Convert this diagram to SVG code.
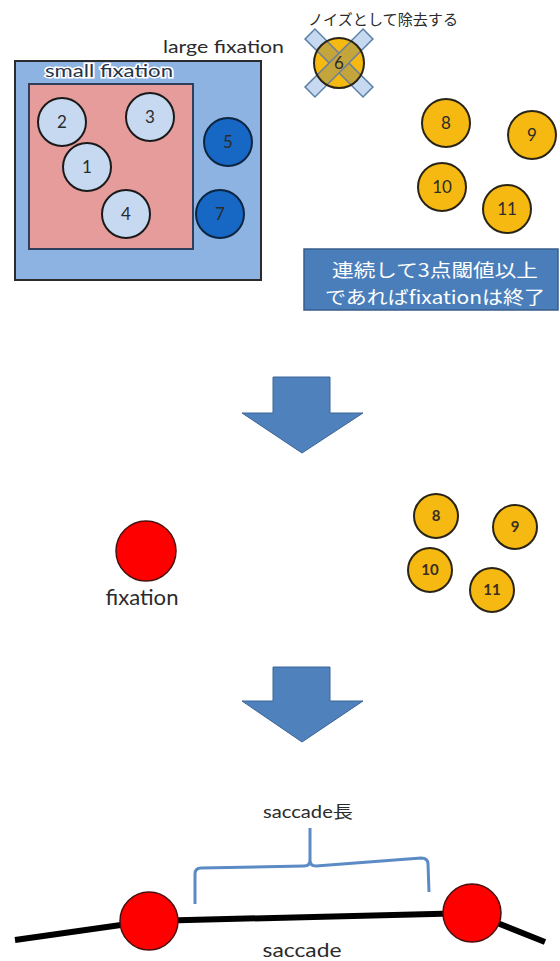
<svg xmlns="http://www.w3.org/2000/svg" width="560" height="961" viewBox="0 0 560 961">
<style>
.lb{fill:#c6d9f1;stroke:#1a1a1a;stroke-width:2}
.db{fill:#1668c4;stroke:#0d2440;stroke-width:2}
.yl{fill:#f6b911;stroke:#2a2416;stroke-width:2}
.rd{fill:#ff0000;stroke:#4a1010;stroke-width:1.5}
.num{font-family:Lato,"Liberation Sans",sans-serif;font-size:17px;fill:#2b2b2b;text-anchor:middle}
.nums{font-family:Lato,"Liberation Sans",sans-serif;font-size:15px;font-weight:bold;fill:#3a3020;text-anchor:middle}
.lbl{font-family:Lato,"Liberation Sans",sans-serif;fill:#2b2b2b}
.arrow{fill:#4f81bd;stroke:#3c6596;stroke-width:1}
.bar{fill:#c6d9f1;stroke:#5b7fa8;stroke-width:1.5}
.jp{font-family:"Noto Sans CJK JP",sans-serif;font-size:18px;fill:#ffffff;text-anchor:middle}
</style>
<defs>
<clipPath id="c6"><circle cx="339" cy="63" r="25"/></clipPath>
</defs>

<g id="large-fixation">
<rect x="15" y="61" width="246" height="219" fill="#8db3e2" stroke="#2b2b2b" stroke-width="2"/>
<text class="lbl" x="163" y="53" font-size="18" textLength="121" lengthAdjust="spacingAndGlyphs">large fixation</text>
</g>
<g id="small-fixation">
<rect x="29" y="84" width="164" height="165" fill="#e59c9b" stroke="#2f3e5a" stroke-width="2"/>
<text class="lbl" x="45" y="77" font-size="18" textLength="128" lengthAdjust="spacingAndGlyphs" stroke="#ffffff" stroke-width="3" paint-order="stroke" style="fill:#253449">small fixation</text>
</g>

<g id="p1"><circle class="lb" cx="87" cy="167" r="24"/><text class="num" x="87" y="173">1</text></g>
<g id="p2"><circle class="lb" cx="62" cy="122" r="24"/><text class="num" x="62" y="128">2</text></g>
<g id="p3"><circle class="lb" cx="150" cy="117" r="24"/><text class="num" x="150" y="123">3</text></g>
<g id="p4"><circle class="lb" cx="126" cy="214" r="24"/><text class="num" x="126" y="220">4</text></g>
<g id="p5"><circle class="db" cx="228" cy="142" r="24"/><text class="num" x="228" y="148">5</text></g>
<g id="p7"><circle class="db" cx="220" cy="214" r="24"/><text class="num" x="220" y="220">7</text></g>

<g id="p6">
<text x="308" y="25" font-family="'Noto Sans CJK JP',sans-serif" font-size="15" fill="#2b2b2b" textLength="150" lengthAdjust="spacingAndGlyphs">ノイズとして除去する</text>
<rect class="bar" x="298" y="56" width="82" height="14" transform="rotate(45 339 63)"/>
<rect class="bar" x="298" y="56" width="82" height="14" transform="rotate(-45 339 63)"/>
<circle cx="339" cy="63" r="25" fill="#f6b911"/>
<g clip-path="url(#c6)">
<rect x="298" y="56" width="82" height="14" fill="#c3a53c" stroke="#6d7f99" stroke-width="1.5" transform="rotate(45 339 63)"/>
<rect x="298" y="56" width="82" height="14" fill="#c3a53c" stroke="#6d7f99" stroke-width="1.5" transform="rotate(-45 339 63)"/>
</g>
<circle cx="339" cy="63" r="25" fill="none" stroke="#2a2416" stroke-width="2"/>
<text class="num" x="339" y="69">6</text>
</g>

<g id="p8"><circle class="yl" cx="446" cy="123" r="24"/><text class="num" x="446" y="129">8</text></g>
<g id="p9"><circle class="yl" cx="532" cy="135" r="24"/><text class="num" x="532" y="141">9</text></g>
<g id="p10"><circle class="yl" cx="442" cy="187" r="24"/><text class="num" x="442" y="193">10</text></g>
<g id="p11"><circle class="yl" cx="507" cy="209" r="24"/><text class="num" x="507" y="215">11</text></g>

<g id="note">
<rect x="304" y="249" width="254" height="61" fill="#4a7ebb" stroke="#385d8a" stroke-width="1.5"/>
<text class="jp" x="435" y="277" textLength="206" lengthAdjust="spacingAndGlyphs">連続して3点閾値以上</text>
<text class="jp" x="435" y="304" textLength="220" lengthAdjust="spacingAndGlyphs">であればfixationは終了</text>
</g>

<g id="arrow1"><polygon class="arrow" points="273,377 330,377 330,413 363,413 302,453 242,413 273,413"/></g>

<g id="fixation">
<circle class="rd" cx="146" cy="551" r="30"/>
<text class="lbl" x="142" y="605" font-size="22" text-anchor="middle" textLength="73" lengthAdjust="spacingAndGlyphs">fixation</text>
</g>

<g id="q8"><circle class="yl" cx="436" cy="516" r="22"/><text class="nums" x="436" y="521">8</text></g>
<g id="q9"><circle class="yl" cx="515" cy="527" r="22"/><text class="nums" x="515" y="532">9</text></g>
<g id="q10"><circle class="yl" cx="430" cy="570" r="22"/><text class="nums" x="430" y="575">10</text></g>
<g id="q11"><circle class="yl" cx="492" cy="590" r="22"/><text class="nums" x="492" y="595">11</text></g>

<g id="arrow2"><polygon class="arrow" points="273,667 330,667 330,701 363,701 302,742 242,701 273,701"/></g>

<g id="connectors">
<polyline points="15,940 149,921 472,913 545,942" fill="none" stroke="#000000" stroke-width="6"/>
<path d="M195,904 L195,874 Q195,868 201,868 L304,866 Q310,866 310,860 L310,828 M310,860 Q310,866 316,866 L421,858 Q428,858 428,864 L429,892" fill="none" stroke="#5b8bc5" stroke-width="3"/>
</g>

<g id="sac1"><circle class="rd" cx="149" cy="921" r="29"/></g>
<g id="sac2"><circle class="rd" cx="472" cy="913" r="29"/></g>

<g id="labels">
<text x="308" y="818" font-family="Lato,'Liberation Sans','Noto Sans CJK JP',sans-serif" font-size="17" fill="#2b2b2b" text-anchor="middle" textLength="90" lengthAdjust="spacingAndGlyphs">saccade長</text>
<text class="lbl" x="302" y="957" font-size="20" text-anchor="middle" textLength="79" lengthAdjust="spacingAndGlyphs">saccade</text>
</g>
</svg>
